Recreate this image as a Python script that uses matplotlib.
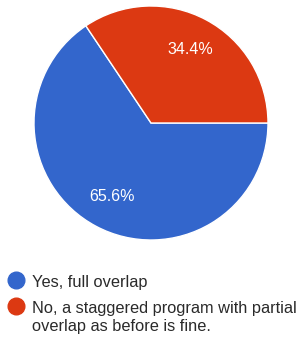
import matplotlib
matplotlib.use("Agg")
import matplotlib.pyplot as plt
from matplotlib.lines import Line2D

labels = [["Yes, full overlap"],
          ["No, a staggered program with partial", "overlap as before is fine."]]
shares = [65.6, 34.4]
colors = ["#3366CC", "#DC3912"]

W, H = 304, 340
fig = plt.figure(figsize=(W / 100, H / 100), dpi=100)
plt.rcParams["font.family"] = ["Liberation Sans", "DejaVu Sans"]

# pie: center (151, 123) px from top, radius 117 px
cx, cy, r = 151, 123, 117
ax = fig.add_axes([(cx - r) / W, (H - cy - r) / H, 2 * r / W, 2 * r / H])
ax.pie(shares, colors=colors, startangle=360 * shares[1] / 100, counterclock=True,
       autopct="%.1f%%", pctdistance=0.71,
       wedgeprops=dict(edgecolor="white", linewidth=1),
       textprops=dict(color="white", fontsize=11.5))
ax.set_xlim(-1, 1)
ax.set_ylim(-1, 1)
ax.set_aspect("equal")
ax.axis("off")

# legend drawn manually: marker y, first baseline y (px from top)
rows = [(280, 287), (306, 313)]
line_gap = 18
for (mk_y, base_y), lines, col in zip(rows, labels, colors):
    fig.add_artist(Line2D([16 / W], [1 - mk_y / H], marker="o", markersize=12,
                          color=col, linestyle="none", transform=fig.transFigure))
    for i, line in enumerate(lines):
        fig.text(32 / W, 1 - (base_y + i * line_gap) / H, line, fontsize=11.8,
                 color="#2a2a2a", va="baseline", ha="left")

fig.savefig("out.png", dpi=100)
